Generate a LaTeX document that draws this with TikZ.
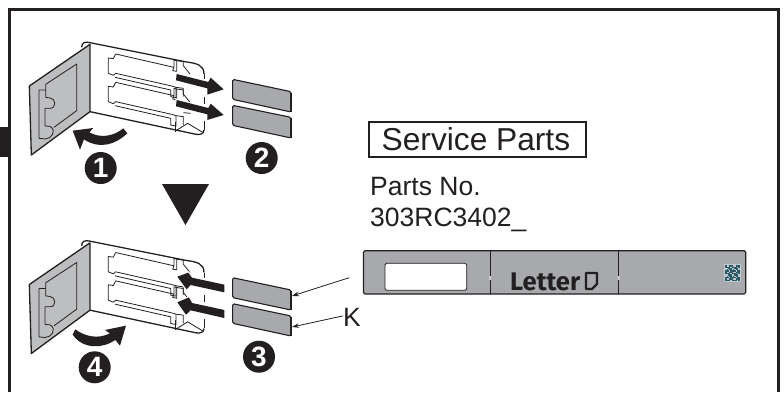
\documentclass[tikz,border=0pt]{standalone}
\usepackage{fontspec}
\setmainfont{Liberation Sans}
\newfontfamily\firafont{Fira Sans}
\usetikzlibrary{arrows.meta}
\definecolor{ink}{HTML}{231F20}
\definecolor{flapgray}{HTML}{BCBEC0}
\definecolor{tabgray}{HTML}{A7A9AC}
\definecolor{qrink}{HTML}{2B5A66}
\definecolor{qrbg}{HTML}{BFC8CC}
\tikzset{
  thinline/.style={draw=ink,line width=0.8pt,line join=round},
  midline/.style={draw=ink,line width=1.3pt,line join=round},
  blockarrow/.style={preaction={draw=white,line width=2.4pt,line join=miter},fill=ink},
  tabshape/.style={fill=tabgray,draw=ink,line width=1.1pt,rounded corners=1.5pt},
  stepmark/.style={circle,fill=ink,minimum size=32pt,inner sep=0pt,text=white,font=\fontsize{28}{28}\selectfont\bfseries},
  bodytext/.style={anchor=base west,inner sep=0pt,text=ink,font=\fontsize{26.5}{30}\selectfont},
  leader/.style={draw=ink,line width=0.8pt,-{Stealth[length=7pt,width=4.5pt]}},
}
\newcommand{\slotpair}{%
  \draw[thinline] (347,162)--(522,202)--(518,212)--(530,214)--(530,182)--(522,180)--(522,202);
  \draw[thinline] (347,162)--(340,176)--(325,174)--(325,220)--(340,226)--(347,220)--(515,258);
  \draw[thinline] (345,232)--(512,270)--(512,290)--(528,293)--(528,262)--(515,258);
  \draw[thinline] (530,182)--(550,185)--(550,197)--(570,222);
  \draw[thinline] (528,262)--(550,265)--(550,290);
}
\newcommand{\bracketpic}{%
  \draw[midline] (245,142) .. controls (245,128) and (255,124) .. (270,128) -- (560,186) .. controls (590,190) and (612,195) .. (612,222);
  \draw[thinline] (612,222) -- (612,238);
  \draw[thinline] (612,290) -- (612,312);
  \draw[thinline] (612,362) -- (612,390);
  \draw[midline] (612,390) .. controls (612,402) and (600,405) .. (588,403) -- (270,335);
  \draw[midline,fill=flapgray] (270,133) -- (88,258) -- (94,465) -- (270,335) -- cycle;
  \draw[thinline] (137,270) -- (137,253) -- (230,192) -- (230,332) -- (162,382);
  \draw[thinline] (137,270) -- (117,270) -- (117,415) -- (135,417) .. controls (155,417) and (172,392) .. (150,379) -- (135,378) -- (135,325) -- (150,325) .. controls (170,325) and (168,295) .. (150,294) -- (137,292) -- (137,270);
  \slotpair
  \begin{scope}[shift={(0,85)}]\slotpair\end{scope}
  \draw[thinline] (525,365)--(525,395);
  \draw[thinline] (528,392)--(563,370)--(608,397);
  \draw[thinline] (550,338)--(572,340);
}
\begin{document}
\begin{tikzpicture}[x=1pt,y=-1pt]
\useasboundingbox (0,0) rectangle (784,392);
\fill[white] (0,0) rectangle (784,392);
% frame
\draw[draw=ink,line width=3pt] (9,392) -- (9,9) -- (778,9) -- (778,392);
\fill[ink] (0,127) rectangle (9,157);

% top bracket
\begin{scope}[x=0.3333pt,y=-0.3333pt]\bracketpic\end{scope}
% bottom bracket
\begin{scope}[shift={(0,198.5)},x=0.3333pt,y=-0.3333pt]\bracketpic\end{scope}

% top removal arrows
\begin{scope}[x=0.3333pt,y=-0.3333pt]
  \path[blockarrow] (530,222)--(625,246)--(632,233)--(671,268)--(622,284)--(622,265)--(528,241)--cycle;
  \path[blockarrow] (530,300)--(625,324)--(632,311)--(671,345)--(622,360)--(622,343)--(528,319)--cycle;
  % rotation arrow
  \fill[ink] (382,400) .. controls (340,440) and (290,445) .. (252,418) -- (240,449) -- (218,392) -- (280,384) -- (268,397) .. controls (300,415) and (340,410) .. (370,385) -- cycle;
  % tabs
  \path[tabshape] (698,238) -- (873,275) -- (873,336) -- (698,298) -- cycle;
  \path[tabshape] (698,316) -- (873,352) -- (873,414) -- (698,376) -- cycle;
  \draw[draw=ink,line width=1.6pt] (873,278) -- (873,336) (873,355) -- (873,414);
\end{scope}

% bottom insertion arrows, tabs
\begin{scope}[shift={(0,190)},x=0.3333pt,y=-0.3333pt]
  \path[blockarrow] (673,284)--(576,263)--(565,248)--(532,260)--(560,298)--(572,285)--(673,307)--cycle;
  \path[blockarrow] (673,360)--(576,339)--(567,322)--(532,337)--(558,374)--(572,361)--(673,384)--cycle;
  \fill[ink] (218,434) .. controls (250,480) and (310,475) .. (346,450) -- (360,467) -- (378,407) -- (315,420) -- (330,430) .. controls (295,448) and (255,440) .. (226,418) -- cycle;
  \path[tabshape] (698,263) -- (873,300) -- (873,360) -- (698,323) -- cycle;
  \path[tabshape] (698,341) -- (873,378) -- (873,438) -- (698,400) -- cycle;
  \draw[draw=ink,line width=1.6pt] (873,303) -- (873,360) (873,381) -- (873,438);
  \coordinate (tabA) at (876,318);
  \coordinate (tabB) at (876,411);
  \coordinate (barfree) at (1048,263);
\end{scope}

% step marks
\node[stepmark] (s1) at (100.7,168) {1};
\node[stepmark] (s2) at (261.7,158) {2};
\node[stepmark] (s3) at (259,356.7) {3};
\node[stepmark] (s4) at (94.7,367.3) {4};

% big triangle
\fill[ink] (162,184) -- (209,184) -- (185.5,225) -- cycle;

% texts
\node[draw=ink,line width=2pt,minimum width=217pt,minimum height=35pt,inner sep=0pt] (title) at (477.8,139.8) {};
\node[anchor=base west,inner sep=0pt,text=ink,font=\fontsize{31.7}{34}\selectfont] (titletext) at (381.5,150) {Service Parts};
\node[bodytext] (pn1) at (370,195) {Parts No.};
\node[bodytext] (pn2) at (370,226.5) {303RC3402\_};

% label strip
\path[tabshape] (363.5,250.7) rectangle (745.7,294);
\draw[draw=ink,line width=1pt] (490,250.7) -- (490,294) (618.7,250.7) -- (618.7,294);
\fill[tabgray!60] (489,276) rectangle (491,280) (617.7,276) rectangle (619.7,280);
\draw[draw=ink,line width=0.8pt,fill=white,rounded corners=1.5pt] (385,263.3) rectangle (466.7,290.3);
\node[anchor=base west,inner sep=0pt,text=ink,font=\firafont\bfseries\fontsize{25.5}{25}\selectfont] (letter) at (510,290) {Letter};
\draw[draw=ink,line width=2.2pt,line join=round] (586,273) -- (597,273) -- (597,284) -- (592,289) -- (586,289) -- cycle;
\fill[qrbg] (724,264) rectangle (740.7,281.7);
\foreach \i in {0,...,10}{\foreach \j in {0,...,11}{
  \pgfmathparse{int(mod(\i*\i*\j+7*\j*\j+3*\i+\j*\i*5+\i*\i*\i,5))}
  \ifnum\pgfmathresult<3\relax
    \fill[qrink] ({725.2+\i*1.3},{265.2+\j*1.3}) rectangle ++(1.3,1.3);
  \fi
}}

% K and leaders
\node[anchor=base west,inner sep=0pt,text=ink,font=\fontsize{26.5}{30}\selectfont] (K) at (343,326) {K};
\draw[leader] (K.west) ++(0,-1) -- (tabB);
\draw[leader] (barfree) -- (tabA);
\end{tikzpicture}
\end{document}
